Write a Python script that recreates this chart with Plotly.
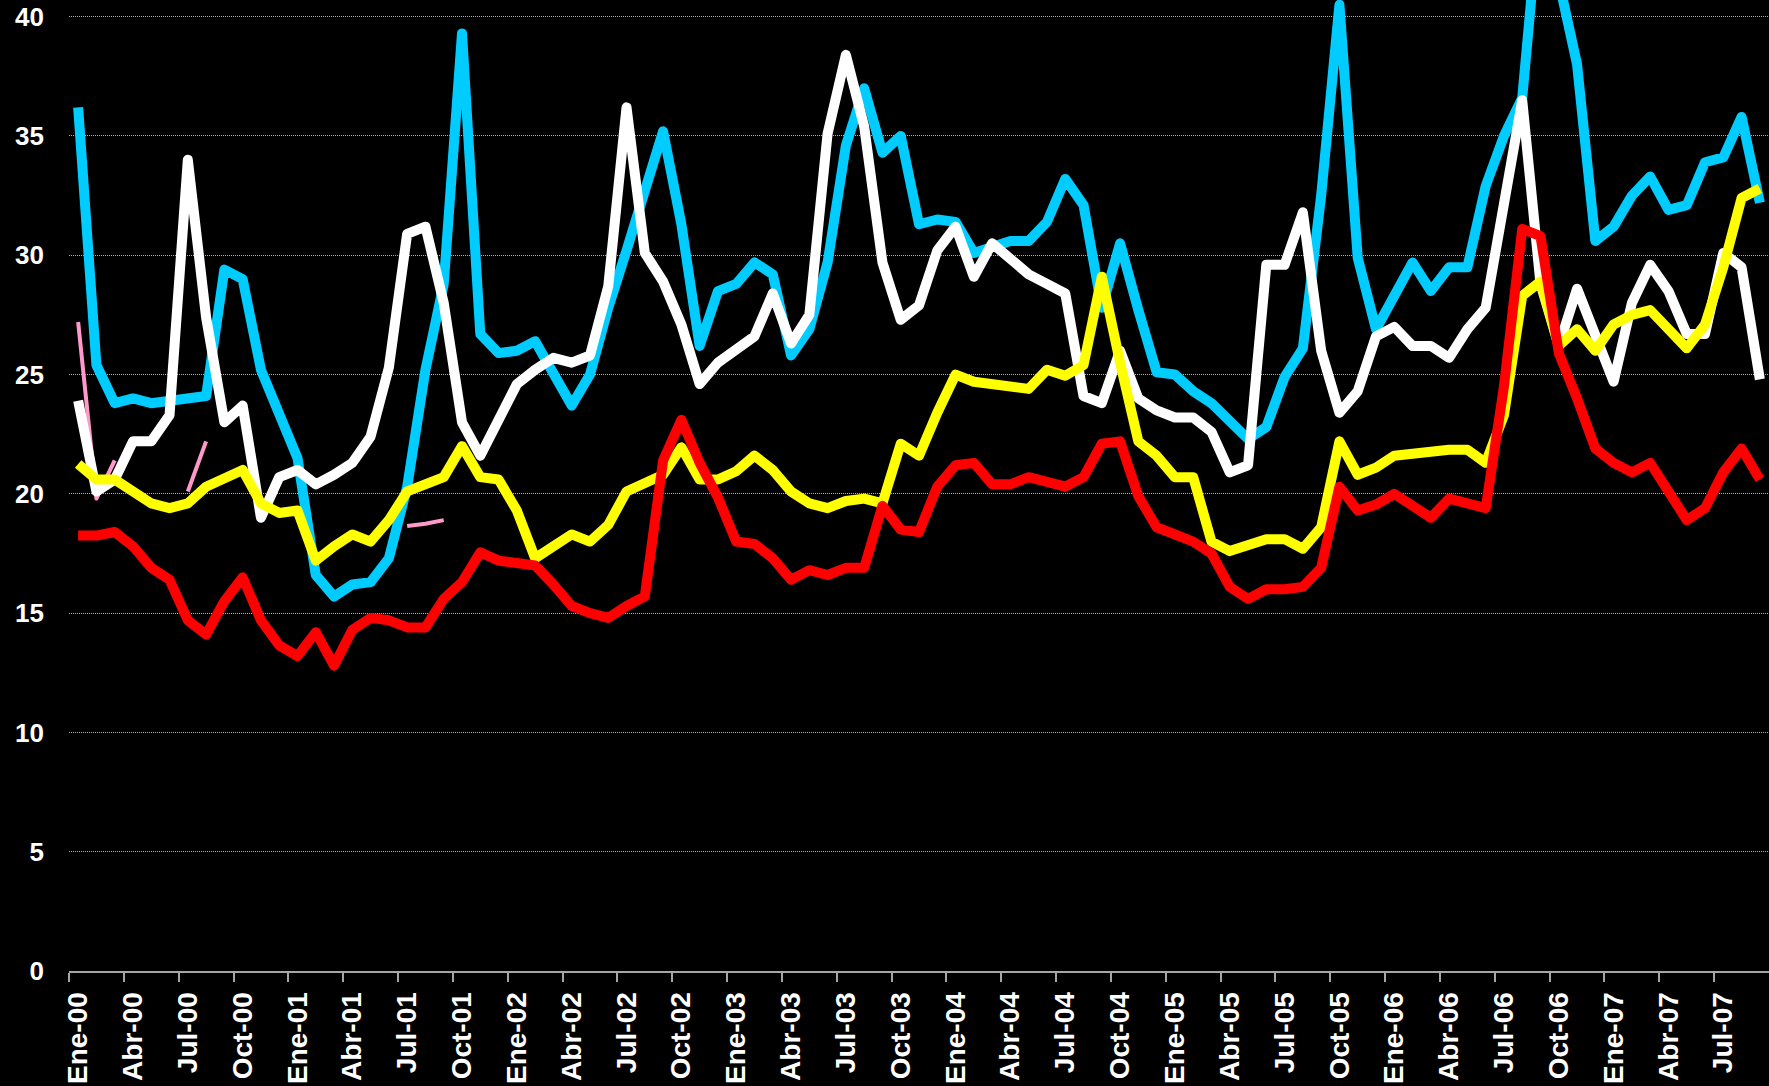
import plotly.graph_objects as go

# ---- categories (monthly, Ene-00 .. Sep-07) ----
month_names = ["Ene", "Feb", "Mar", "Abr", "May", "Jun", "Jul", "Ago", "Sep", "Oct", "Nov", "Dic"]
categories = [f"{m}-{y:02d}" for y in range(0, 8) for m in month_names][:93]

# ---- series values ----
blue = [36.2, 25.4, 23.8, 24.0, 23.8, 23.9, 24.05, 24.1, 29.4, 29.0, 25.2, 23.4,
        21.5, 16.6, 15.7, 16.2, 16.3, 17.3, 20.3, 25.2, 28.8, 39.3, 26.7, 25.9,
        26.0, 26.4, 25.1, 23.7, 25.0, 27.8, 30.2, 32.6, 35.2, 31.3, 26.2, 28.5,
        28.8, 29.7, 29.2, 25.8, 26.9, 29.7, 34.6, 37.0, 34.3, 35.0, 31.3, 31.5,
        31.4, 30.1, 30.4, 30.6, 30.6, 31.4, 33.2, 32.1, 27.8, 30.5, 27.7, 25.1,
        25.0, 24.3, 23.8, 23.1, 22.3, 22.8, 24.9, 26.1, 32.5, 40.5, 29.9, 26.9,
        28.3, 29.7, 28.5, 29.5, 29.5, 32.9, 35.0, 36.6, 45.0, 41.4, 38.0, 30.6,
        31.2, 32.5, 33.3, 31.9, 32.1, 33.9, 34.1, 35.8, 32.2]

white = [23.9, 20.1, 20.6, 22.2, 22.2, 23.3, 34.0, 27.4, 23.0, 23.7, 19.0, 20.7,
         21.0, 20.4, 20.8, 21.3, 22.4, 25.3, 30.9, 31.2, 28.0, 23.0, 21.6, 23.0,
         24.6, 25.2, 25.7, 25.5, 25.8, 28.7, 36.2, 30.1, 28.9, 27.1, 24.6, 25.5,
         26.0, 26.6, 28.4, 26.3, 27.5, 35.1, 38.4, 35.4, 29.7, 27.3, 27.9, 30.2,
         31.2, 29.1, 30.5, 29.9, 29.2, 28.8, 28.4, 24.1, 23.8, 26.0, 24.0, 23.5,
         23.2, 23.2, 22.6, 20.9, 21.2, 29.6, 29.6, 31.8, 26.0, 23.4, 24.3, 26.6,
         27.0, 26.2, 26.2, 25.7, 26.9, 27.8, 32.2, 36.5, 28.8, 26.2, 28.6, 26.7,
         24.7, 28.0, 29.6, 28.5, 26.7, 26.7, 30.1, 29.5, 24.8]

yellow = [21.25, 20.6, 20.6, 20.1, 19.6, 19.4, 19.6, 20.3, 20.7, 21.0, 19.6, 19.2,
          19.3, 17.2, 17.8, 18.3, 18.0, 18.9, 20.1, 20.4, 20.7, 22.0, 20.7, 20.6,
          19.3, 17.3, 17.8, 18.3, 18.0, 18.7, 20.1, 20.5, 20.8, 21.95, 20.6, 20.6,
          20.95, 21.6, 21.0, 20.1, 19.6, 19.4, 19.7, 19.8, 19.6, 22.1, 21.6, 23.4,
          25.0, 24.7, 24.6, 24.5, 24.4, 25.2, 24.95, 25.4, 29.1, 25.5, 22.2, 21.6,
          20.7, 20.7, 18.0, 17.6, 17.8, 18.1, 18.1, 17.7, 18.6, 22.2, 20.8, 21.1,
          21.6, 21.7, 21.85, 21.85, 21.85, 21.3, 23.3, 28.3, 28.9, 26.2, 26.9, 26.0,
          27.1, 27.5, 27.7, 26.9, 26.1, 27.1, 29.5, 32.4, 32.8]

red = [18.25, 18.25, 18.4, 17.8, 16.9, 16.4, 14.7, 14.1, 15.5, 16.5, 14.7, 13.65,
       13.2, 14.2, 12.8, 14.3, 14.8, 14.7, 14.4, 14.4, 15.6, 16.3, 17.55, 17.2,
       17.1, 17.0, 16.2, 15.3, 15.0, 14.8, 15.3, 15.7, 21.4, 23.1, 21.3, 19.85,
       18.0, 17.9, 17.3, 16.4, 16.8, 16.6, 16.9, 16.9, 19.5, 18.5, 18.4, 20.3,
       21.2, 21.3, 20.4, 20.4, 20.7, 20.5, 20.3, 20.7, 22.1, 22.2, 19.9, 18.6,
       18.3, 18.0, 17.5, 16.1, 15.6, 16.0, 16.0, 16.1, 16.9, 20.3, 19.3, 19.55,
       20.0, 19.5, 19.0, 19.8, 19.6, 19.4, 24.5, 31.1, 30.8, 25.9, 24.0, 21.9,
       21.3, 20.9, 21.3, 20.1, 18.9, 19.4, 20.9, 21.9, 20.6]

pink = [27.2, 19.8, 21.4, None, None, None, 20.1, 22.2, None, None, None, None,
        None, None, None, None, None, None, 18.65, 18.75, 18.9] + [None] * 72

y_ticks = [0, 5, 10, 15, 20, 25, 30, 35, 40]

x = list(range(len(categories)))
label_idx = x[::3]
boundary_ticks = [i - 0.5 for i in label_idx]

fig = go.Figure()

series = [
    (pink, "#FF99CC", 4),
    (blue, "#00CCFF", 10),
    (white, "#FFFFFF", 10),
    (yellow, "#FFFF00", 10),
    (red, "#FF0000", 10),
]
for vals, color, w in series:
    fig.add_trace(go.Scatter(x=x, y=vals, mode="lines",
                             line=dict(color=color, width=w),
                             connectgaps=False, showlegend=False,
                             hoverinfo="skip"))

fig.update_layout(
    width=1769, height=1086,
    paper_bgcolor="black", plot_bgcolor="black",
    margin=dict(l=69, r=0, t=0, b=115),
    font=dict(family="Liberation Sans, Arial, sans-serif", color="white"),
)
fig.update_xaxes(
    range=[-0.5, len(categories) - 0.5],
    tickmode="array", tickvals=label_idx,
    ticktext=[categories[i] for i in label_idx],
    tickangle=-90, ticks="",
    tickfont=dict(size=28, color="white", weight="bold"),
    ticklabelstandoff=8,
    showgrid=False, zeroline=False,
    showline=True, linecolor="#a6a6a6", linewidth=2,
    minor=dict(tickmode="array", tickvals=boundary_ticks, ticks="outside",
               ticklen=9, tickwidth=2, tickcolor="#a6a6a6", showgrid=False),
)
fig.update_yaxes(
    range=[0, 40.7],
    tickmode="array", tickvals=y_ticks,
    tickfont=dict(size=26, color="white", weight="bold"),
    ticks="", ticklabelstandoff=24,
    showgrid=True, gridcolor="#b0b0b0", gridwidth=1, griddash="1px,1px",
    zeroline=False, showline=False,
)

post = """
document.body.style.margin='0';
document.body.style.overflow='hidden';
var s=document.createElement('style');
s.textContent='.js-line{stroke-linejoin:round;}';
document.head.appendChild(s);
"""
fig.write_html("out.html", post_script=post, config={"displayModeBar": False})
